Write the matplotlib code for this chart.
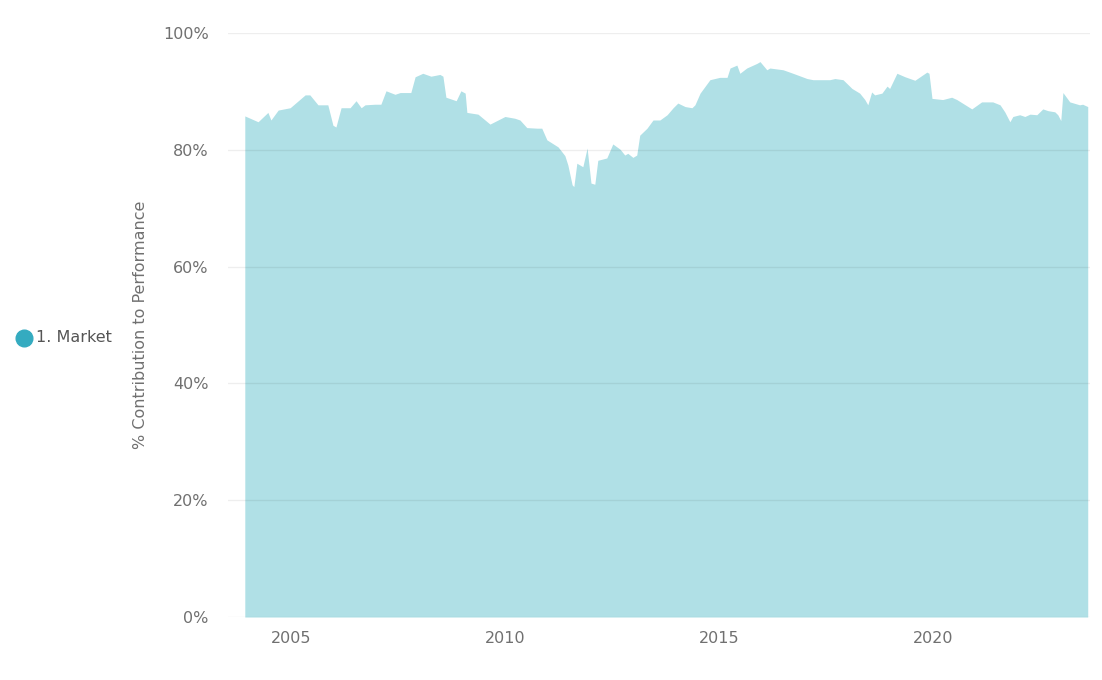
import matplotlib.pyplot as plt
from matplotlib.lines import Line2D

# top edge of the area (decimal years, share)
years = [2003.92, 2004.23, 2004.46, 2004.53, 2004.70, 2004.98, 2005.33, 2005.44,
         2005.63, 2005.86, 2005.98, 2006.05, 2006.17, 2006.38, 2006.52, 2006.64,
         2006.73, 2006.96, 2007.10, 2007.22, 2007.43, 2007.55, 2007.80, 2007.90,
         2008.08, 2008.27, 2008.48, 2008.55, 2008.62, 2008.86, 2008.97, 2009.07,
         2009.11, 2009.37, 2009.65, 2010.00, 2010.23, 2010.35, 2010.51, 2010.75,
         2010.86, 2010.98, 2011.24, 2011.40, 2011.47, 2011.57, 2011.61, 2011.68,
         2011.82, 2011.92, 2012.01, 2012.10, 2012.17, 2012.38, 2012.52, 2012.69,
         2012.80, 2012.87, 2012.99, 2013.08, 2013.15, 2013.32, 2013.46, 2013.62,
         2013.79, 2013.93, 2014.04, 2014.21, 2014.37, 2014.44, 2014.56, 2014.79,
         2015.02, 2015.19, 2015.26, 2015.42, 2015.49, 2015.65, 2015.89, 2015.96,
         2016.12, 2016.19, 2016.50, 2016.73, 2017.06, 2017.20, 2017.59, 2017.71,
         2017.90, 2018.11, 2018.29, 2018.41, 2018.48, 2018.57, 2018.64, 2018.81,
         2018.93, 2018.99, 2019.16, 2019.35, 2019.58, 2019.86, 2019.91, 2019.98,
         2020.23, 2020.44, 2020.56, 2020.91, 2021.14, 2021.40, 2021.57, 2021.68,
         2021.80, 2021.87, 2022.03, 2022.15, 2022.27, 2022.43, 2022.57, 2022.69,
         2022.85, 2022.92, 2022.99, 2023.04, 2023.20, 2023.43, 2023.50, 2023.62]
market = [85.8, 84.8, 86.4, 85.1, 86.8, 87.2, 89.4, 89.4,
          87.7, 87.7, 84.2, 83.9, 87.2, 87.2, 88.4, 87.2,
          87.7, 87.8, 87.8, 90.1, 89.5, 89.8, 89.8, 92.5,
          93.1, 92.6, 92.9, 92.6, 89.0, 88.4, 90.1, 89.7,
          86.4, 86.1, 84.4, 85.7, 85.4, 85.1, 83.8, 83.7,
          83.7, 81.7, 80.5, 79.0, 77.4, 74.0, 73.7, 77.7,
          77.1, 80.3, 74.3, 74.1, 78.2, 78.6, 81.0, 80.1,
          79.1, 79.4, 78.7, 79.1, 82.5, 83.7, 85.1, 85.1,
          86.0, 87.2, 88.0, 87.4, 87.2, 87.7, 89.7, 92.0,
          92.4, 92.4, 94.0, 94.5, 93.1, 94.0, 94.8, 95.1,
          93.7, 94.0, 93.7, 93.1, 92.2, 92.0, 92.0, 92.2,
          92.0, 90.5, 89.7, 88.6, 87.7, 89.9, 89.4, 89.7,
          90.9, 90.5, 93.1, 92.5, 91.9, 93.3, 93.1, 88.8,
          88.6, 89.0, 88.6, 87.0, 88.2, 88.2, 87.7, 86.5,
          84.8, 85.7, 86.0, 85.7, 86.1, 86.0, 87.0, 86.7,
          86.5, 86.0, 85.0, 89.8, 88.2, 87.7, 87.8, 87.4]
series_name = "1. Market"
y_ticks = [0, 20, 40, 60, 80, 100]
x_ticks = [2005, 2010, 2015, 2020]

fig = plt.figure(figsize=(11.02, 6.8), dpi=100)
ax = fig.add_axes([0.207, 0.0926, 0.782, 0.8589])

vals = [v / 100 for v in market]
ax.fill_between(years, 0, vals, color="#b0e0e6", linewidth=0, zorder=1)

for t in y_ticks:
    ax.axhline(t / 100, color="black", alpha=0.065, linewidth=1, zorder=2)

ax.set_xlim(2003.53, 2023.67)
ax.set_ylim(0, 1)
ax.set_yticks([t / 100 for t in y_ticks])
ax.set_yticklabels([f"{t}%" for t in y_ticks])
ax.set_xticks(x_ticks)
ax.set_xticklabels([str(t) for t in x_ticks])
ax.tick_params(length=0, labelsize=11.5, labelcolor="#707070")
ax.tick_params(axis="y", pad=14)
ax.tick_params(axis="x", pad=10)
for s in ax.spines.values():
    s.set_visible(False)

ax.set_ylabel("% Contribution to Performance", fontsize=11.5, color="#707070", labelpad=11)

# legend on the left
fig.add_artist(Line2D([24 / 1102], [1 - 338 / 680], marker="o", markersize=12,
                      color="#34abc0", linestyle="none", transform=fig.transFigure))
fig.text(36 / 1102, 1 - 338 / 680, series_name, fontsize=11.5, color="#555555",
         va="center", ha="left")

fig.savefig("out.png", dpi=100)
